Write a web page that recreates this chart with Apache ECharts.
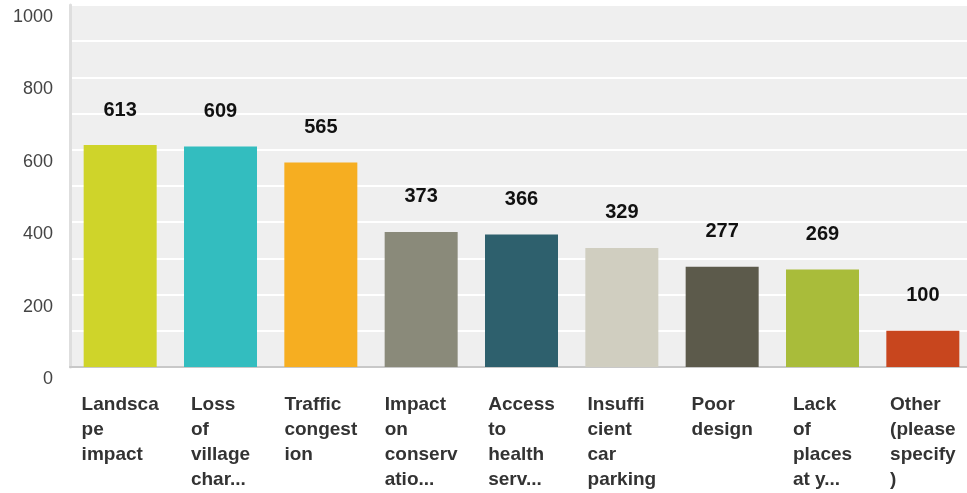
<!DOCTYPE html>
<html>
<head>
<meta charset="utf-8">
<script src="https://cdn.jsdelivr.net/npm/echarts@6/dist/echarts.min.js"></script>
<style>html,body{margin:0;padding:0;background:#fff;}#c{width:967px;height:493px;}</style>
</head>
<body>
<div id="c"></div>
<script>
var categories = [
  "Landsca\npe\nimpact",
  "Loss\nof\nvillage\nchar...",
  "Traffic\ncongest\nion",
  "Impact\non\nconserv\natio...",
  "Access\nto\nhealth\nserv...",
  "Insuffi\ncient\ncar\nparking",
  "Poor\ndesign",
  "Lack\nof\nplaces\nat y...",
  "Other\n(please\nspecify\n)"
];
var values = [613, 609, 565, 373, 366, 329, 277, 269, 100];
var colors = ["#cfd42a", "#33bdbf", "#f6ae21", "#8a8a7a", "#2e606d", "#d0cec0", "#5c5a4b", "#a9bc3a", "#c8461e"];
var yTicks = [0, 200, 400, 600, 800, 1000];
var FONT = "'Liberation Sans', Arial, Helvetica, sans-serif";

var chart = echarts.init(document.getElementById('c'), null, {renderer: 'canvas'});
chart.setOption({
  animation: false,
  grid: {left: 70, width: 903, top: 5, bottom: 126, show: true, backgroundColor: '#efefef', borderWidth: 0, outerBoundsMode: 'none', containLabel: false},
  xAxis: {
    type: 'category',
    data: categories,
    axisTick: {show: false},
    axisLine: {show: true, lineStyle: {color: '#c8c8c8', width: 2}},
    axisLabel: {
      interval: 0,
      margin: 25,
      hideOverlap: false,
      formatter: function (v) {
        return v.split('\n').map(function (l) { return '{a|' + l + '}'; }).join('\n');
      },
      rich: {
        a: {align: 'left', fontFamily: FONT, fontWeight: 'bold', fontSize: 19, color: '#333', lineHeight: 25}
      }
    }
  },
  yAxis: {
    type: 'value',
    min: 0,
    max: 1000,
    interval: 100,
    axisLine: {show: true, lineStyle: {color: '#dedede', width: 3}},
    axisTick: {show: false},
    splitLine: {show: true, lineStyle: {color: '#ffffff', width: 2}},
    axisLabel: {
      margin: 17,
      verticalAlign: 'top',
      padding: [3, 0, 0, 0],
      fontFamily: FONT,
      fontSize: 18,
      color: '#444',
      formatter: function (v) { return yTicks.indexOf(v) >= 0 ? String(v) : ''; }
    }
  },
  series: [{
    type: 'bar',
    barWidth: 73,
    data: values.map(function (v, i) { return {value: v, itemStyle: {color: colors[i]}}; }),
    label: {
      show: true,
      position: 'top',
      distance: 25,
      fontFamily: FONT,
      fontWeight: 'bold',
      fontSize: 20,
      color: '#111'
    }
  }]
});
</script>
</body>
</html>
